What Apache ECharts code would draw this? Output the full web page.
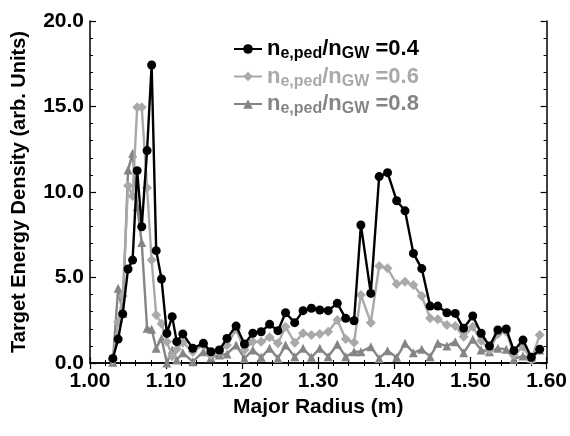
<!DOCTYPE html>
<html><head><meta charset="utf-8">
<script src="https://cdn.jsdelivr.net/npm/echarts@6/dist/echarts.min.js"></script>
<style>html,body{margin:0;padding:0;background:#fff}#c{width:570px;height:436px}</style>
</head><body><div id="c"></div>
<script>
const radius = [1.030,1.037,1.043,1.050,1.056,1.062,1.068,1.075,1.081,1.087,1.094,1.101,1.108,1.114,1.122,1.135,1.149,1.159,1.170,1.180,1.192,1.203,1.214,1.225,1.236,1.247,1.257,1.269,1.280,1.291,1.302,1.313,1.325,1.336,1.347,1.356,1.369,1.380,1.391,1.403,1.414,1.425,1.436,1.447,1.457,1.469,1.480,1.491,1.503,1.514,1.525,1.536,1.547,1.557,1.569,1.580,1.591];
const ratio04 = [0.27,1.40,2.87,5.50,6.02,11.25,7.97,12.42,17.43,6.57,4.91,1.73,2.71,1.25,1.70,0.86,1.15,0.66,0.76,1.44,2.16,1.11,1.74,1.83,2.26,1.89,2.94,2.36,3.06,3.20,3.10,3.06,3.49,2.61,2.47,8.07,4.07,10.9,11.13,9.49,8.9,6.41,5.52,3.33,3.33,2.94,2.9,2.03,2.75,1.74,0.99,1.93,1.99,0.72,1.34,0.33,0.8];
const ratio06 = [0.18,2.4,3.92,10.37,9.77,14.95,14.95,10.25,6.02,2.81,2.3,1.25,0.4,0.8,1.2,0.66,1.05,0.47,0.66,1.05,1.97,0.76,1.25,1.25,1.5,1.15,2.12,1.19,1.74,1.64,1.7,1.83,2.51,1.4,1.2,3.98,2.36,5.67,5.54,4.62,4.75,4.56,3.92,2.61,2.56,2.22,2.16,1.54,2.12,1.30,0.76,1.70,1.83,0.47,0.95,0.18,1.64];
const ratio08 = [0.05,4.37,2.9,11.29,12.26,9.14,7.04,2.03,1.97,0.86,1.44,0.0,0.76,0.18,0.6,0.08,0.66,0.3,0.47,0.53,1.05,0.27,0.76,0.33,0.86,0.27,1.05,0.37,0.86,0.33,0.86,0.37,1.1,0.37,0.66,0.66,0.95,0.27,0.72,0.33,1.15,0.6,0.8,0.37,1.15,0.99,1.25,0.6,1.39,0.76,0.66,0.86,0.8,0.22,0.41,0.27,0.76];
const seriesNames = ['0.4','0.6','0.8'];
const xTitle = 'Major Radius (m)';
const yTitle = 'Target Energy Density (arb. Units)';

const FONT = '"Liberation Sans Narrow","Liberation Sans",Arial,sans-serif';
const colors = {'0.4':'#000000','0.6':'#a9a9a9','0.8':'#858585'};
const rich = {
  n:{fontSize:22,fontWeight:'bold',fontFamily:FONT,lineHeight:26},
  s:{fontSize:16,fontWeight:'bold',fontFamily:FONT,lineHeight:18,padding:[10,0,0,0]}
};
function pairs(v){return radius.map((r,i)=>[r,v[i]]);}
const tickStyle = {show:true,inside:true,length:6,lineStyle:{color:'#000',width:1.2}};
const minorStyle = {show:true,splitNumber:5,length:3,lineStyle:{color:'#000',width:1}};
const lineStyle = {color:'#000',width:1.5};
const chart = echarts.init(document.getElementById('c'),null,{renderer:'canvas'});
chart.setOption({
  animation:false,
  backgroundColor:'#fff',
  grid:{left:90,right:20,top:21,bottom:73},
  legend:{
    orient:'vertical',left:228,top:31,itemWidth:28,itemHeight:12,itemGap:1.5,
    data:seriesNames.map(n=>({name:n,textStyle:{color:colors[n],rich:rich}})),
    formatter:n=>'{n|n}{s|e,ped}{n|/n}{s|GW}{n| =' + n + '}'
  },
  xAxis:[{
    type:'value',min:1.0,max:1.6,interval:0.1,
    axisLine:{lineStyle:lineStyle},axisTick:tickStyle,minorTick:minorStyle,splitLine:{show:false},
    axisLabel:{formatter:v=>v.toFixed(2),color:'#000',fontSize:21,fontWeight:'bold',fontFamily:FONT,margin:8},
    name:xTitle,nameLocation:'middle',nameGap:33,
    nameTextStyle:{color:'#000',fontSize:21,fontWeight:'bold',fontFamily:FONT}
  },{
    type:'value',position:'top',min:1.0,max:1.6,interval:0.1,
    axisLine:{lineStyle:lineStyle},axisTick:tickStyle,minorTick:minorStyle,splitLine:{show:false},
    axisLabel:{show:false}
  }],
  yAxis:[{
    type:'value',min:0,max:20,interval:5,
    axisLine:{lineStyle:lineStyle},axisTick:tickStyle,minorTick:minorStyle,splitLine:{show:false},
    axisLabel:{formatter:v=>v.toFixed(1),color:'#000',fontSize:21,fontWeight:'bold',fontFamily:FONT,margin:6},
    name:yTitle,nameLocation:'middle',nameGap:61,
    nameTextStyle:{color:'#000',fontSize:20,fontWeight:'bold',fontFamily:FONT}
  },{
    type:'value',position:'right',min:0,max:20,interval:5,
    axisLine:{lineStyle:lineStyle},axisTick:tickStyle,minorTick:minorStyle,splitLine:{show:false},
    axisLabel:{show:false}
  }],
  series:[
    {name:'0.8',type:'line',data:pairs(ratio08),symbol:'triangle',symbolSize:9,z:2,
     itemStyle:{color:colors['0.8']},lineStyle:{color:colors['0.8'],width:2.4}},
    {name:'0.6',type:'line',data:pairs(ratio06),symbol:'diamond',symbolSize:10,z:3,
     itemStyle:{color:colors['0.6']},lineStyle:{color:colors['0.6'],width:2.4}},
    {name:'0.4',type:'line',data:pairs(ratio04),symbol:'circle',symbolSize:9,z:4,
     itemStyle:{color:colors['0.4']},lineStyle:{color:colors['0.4'],width:2.4}}
  ]
});
</script></body></html>
